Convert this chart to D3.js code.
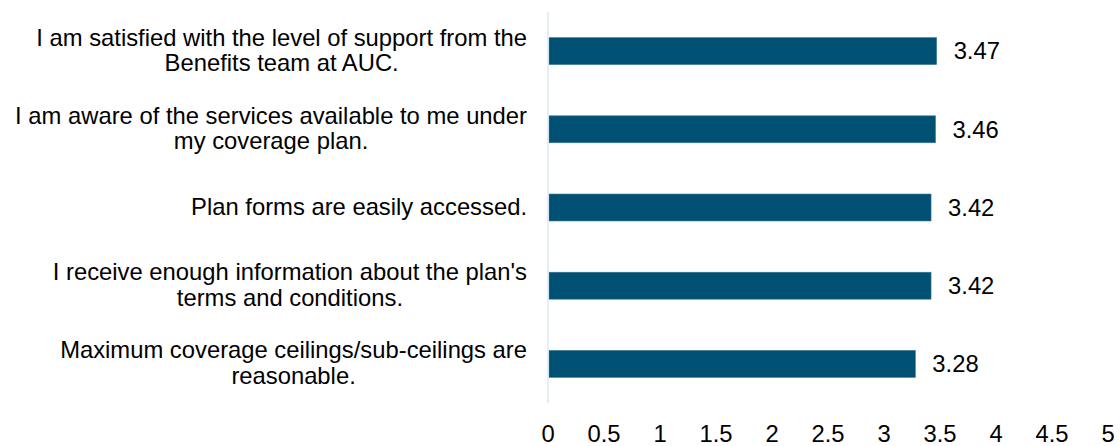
<!DOCTYPE html>
<html>
<head>
<meta charset="utf-8">
<script src="https://cdnjs.cloudflare.com/ajax/libs/d3/7.8.5/d3.min.js"></script>
<style>
  body { margin: 0; background: #fff; }
  text { font-family: "Liberation Sans", Arial, sans-serif; fill: #000; }
</style>
</head>
<body>
<div id="chart"></div>
<script>
var statements = [
  ["I am satisfied with the level of support from the", "Benefits team at AUC."],
  ["I am aware of the services available to me under", "my coverage plan."],
  ["Plan forms are easily accessed."],
  ["I receive enough information about the plan's", "terms and conditions."],
  ["Maximum coverage ceilings/sub-ceilings are", "reasonable."]
];
var scores = [3.47, 3.46, 3.42, 3.42, 3.28];
var tickValues = [0, 0.5, 1, 1.5, 2, 2.5, 3, 3.5, 4, 4.5, 5];

var width = 1120, height = 446;
var fontSize = 23.8;

var svg = d3.select("#chart").append("svg")
  .attr("width", width)
  .attr("height", height);

var x = d3.scaleLinear()
  .domain([0, 5])
  .range([548, 1108]);

var y = d3.scaleBand()
  .domain(d3.range(scores.length))
  .range([12, 403])
  .paddingInner(0.655)
  .paddingOuter(0.3275);

// bars
svg.append("g")
  .selectAll("rect")
  .data(scores)
  .join("rect")
    .attr("x", x(0) + 1)
    .attr("y", (d, i) => y(i))
    .attr("width", d => x(d) - x(0) - 1)
    .attr("height", y.bandwidth())
    .attr("fill", "#005073")
    .attr("stroke", "#3d7a99")
    .attr("stroke-width", 0.6);

// axis line
svg.append("line")
  .attr("x1", x(0)).attr("x2", x(0))
  .attr("y1", 12).attr("y2", 403)
  .attr("stroke", "#dce8f3")
  .attr("stroke-width", 1.5);

// value labels
svg.append("g")
  .selectAll("text")
  .data(scores)
  .join("text")
    .attr("x", d => x(d) + 17)
    .attr("y", (d, i) => y(i) + y.bandwidth() / 2)
    .attr("dy", "0.35em")
    .style("font-size", fontSize + "px")
    .text(d => d.toFixed(2));

// category labels: lines centred on each other, block right-aligned
var lineH = 25.5;
var labelG = svg.append("g");
statements.forEach(function (lines, i) {
  var g = labelG.append("g");
  var t = g.selectAll("text")
    .data(lines)
    .join("text")
      .attr("text-anchor", "middle")
      .style("font-size", fontSize + "px")
      .text(d => d);
  var maxW = d3.max(t.nodes(), n => n.getComputedTextLength());
  var cy = y(i) + y.bandwidth() / 2 - 1;
  t.attr("x", 527 - maxW / 2)
   .attr("y", (d, j) => cy + (j - (lines.length - 1) / 2) * lineH)
   .attr("dy", "0.35em");
});

// x tick labels
svg.append("g")
  .selectAll("text")
  .data(tickValues)
  .join("text")
    .attr("x", d => x(d))
    .attr("y", 442)
    .attr("text-anchor", "middle")
    .style("font-size", fontSize + "px")
    .text(d => d);
</script>
</body>
</html>
